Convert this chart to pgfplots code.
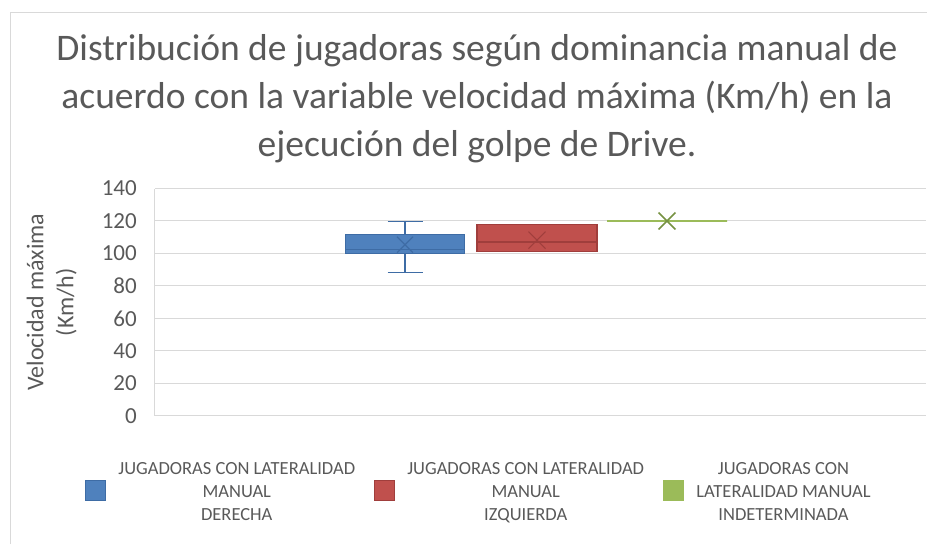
\documentclass[border=0pt]{standalone}
\usepackage{fontspec}
\setmainfont{Carlito}
\usepackage{pgfplots}
\pgfplotsset{compat=1.18}
\definecolor{txtgray}{RGB}{89,89,89}
\definecolor{gridgray}{RGB}{217,217,217}
\definecolor{framegray}{RGB}{217,217,217}
\definecolor{xlblue}{RGB}{79,129,189}
\definecolor{xlblueD}{RGB}{62,108,165}
\definecolor{xlred}{RGB}{192,80,77}
\definecolor{xlredD}{RGB}{160,62,60}
\definecolor{xlgreen}{RGB}{155,187,89}
\definecolor{xlgreenD}{RGB}{118,146,66}
\begin{document}
\begin{tikzpicture}
\useasboundingbox (0pt,0pt) rectangle (927pt,-544pt);
\draw[framegray, line width=1pt] (10pt,-544pt) -- (10pt,-12.5pt) -- (927pt,-12.5pt);
\node[anchor=north, align=center, inner sep=0pt, text=txtgray,
      font=\fontsize{37.5}{48}\selectfont] at (477pt,-34pt)
  {Distribución de jugadoras según dominancia manual de\\acuerdo con la variable velocidad máxima (Km/h) en la\\ejecución del golpe de Drive.};
\begin{axis}[
  at={(155pt,-415.8pt)}, anchor=south west,
  scale only axis, width=771pt, height=227.3pt,
  xmin=155, xmax=926, ymin=0, ymax=140,
  ytick={0,20,...,140}, xtick=\empty,
  axis lines*=left,
  axis line style={draw=gridgray, line width=1pt},
  ymajorgrids, grid style={draw=gridgray, line width=1pt},
  major tick length=0pt,
  /pgf/number format/assume math mode=true,
  yticklabel style={font=\fontsize{23}{28}\selectfont, text=txtgray, anchor=east, inner sep=0pt, xshift=-18pt},
  ylabel={Velocidad máxima\\(Km/h)},
  ylabel style={font=\fontsize{24}{30}\selectfont, text=txtgray, align=center, at={(axis description cs:-0.134,0.5)}, anchor=center},
  legend columns=3,
  legend style={draw=none, fill=none, at={(-0.0947,-0.17)}, anchor=north west,
    font=\fontsize{18.5}{23}\selectfont, text=txtgray,
    /tikz/every even column/.append style={column sep=17pt}},
  legend image code/.code={\draw[#1, line width=1.2pt] (0pt,-22pt) rectangle (20pt,-2pt); \path (30pt,-12pt);},
]
% boxes (Q1 to Q3)
\addplot[fill=xlblue, draw=xlblueD, line width=1.2pt] coordinates {(345.5,100.2) (464.5,100.2) (464.5,111.7) (345.5,111.7)} -- cycle;
\addlegendentry{\begin{tabular}{@{}c@{}}JUGADORAS CON LATERALIDAD\\MANUAL\\DERECHA\end{tabular}}
\addplot[fill=xlred, draw=xlredD, line width=1.2pt] coordinates {(477,101.4) (597,101.4) (597,117.8) (477,117.8)} -- cycle;
\addlegendentry{\begin{tabular}{@{}c@{}}JUGADORAS CON LATERALIDAD\\MANUAL\\IZQUIERDA\end{tabular}}
\addplot[fill=xlgreen, draw=xlgreen, line width=1.5pt] coordinates {(607,120) (727,120) (727,120) (607,120)} -- cycle;
\addlegendentry{\begin{tabular}{@{}c@{}}JUGADORAS CON\\LATERALIDAD MANUAL\\INDETERMINADA\end{tabular}}
% medians
\addplot[draw=xlblueD, line width=1.2pt, forget plot] coordinates {(345.5,102.6) (464.5,102.6)};
\addplot[draw=xlredD, line width=1.2pt, forget plot] coordinates {(477,107) (597,107)};
% whiskers (blue)
\addplot[draw=xlblueD, line width=1.2pt, forget plot] coordinates {(405,100.2) (405,88.1)};
\addplot[draw=xlblueD, line width=1.2pt, forget plot] coordinates {(387.5,88.1) (422.5,88.1)};
\addplot[draw=xlblueD, line width=1.2pt, forget plot] coordinates {(405,111.7) (405,119.8)};
\addplot[draw=xlblueD, line width=1.2pt, forget plot] coordinates {(387.5,119.8) (422.5,119.8)};
% means
\addplot[only marks, mark=x, mark size=11.3pt, draw=xlblueD, line width=1.2pt, forget plot] coordinates {(405,105.4)};
\addplot[only marks, mark=x, mark size=12pt, draw=xlredD, line width=1.2pt, forget plot] coordinates {(537,108.2)};
\addplot[only marks, mark=x, mark size=12pt, draw=xlgreenD, line width=1.5pt, forget plot] coordinates {(667,120)};
\end{axis}
\end{tikzpicture}
\end{document}
